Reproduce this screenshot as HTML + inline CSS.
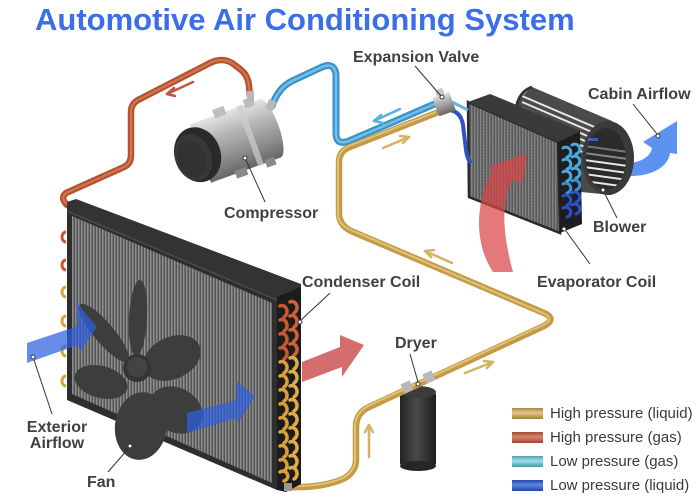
<!DOCTYPE html>
<html><head><meta charset="utf-8"><style>
html,body{margin:0;padding:0;background:#fff;}
svg{display:block;}
text{font-family:"Liberation Sans",Arial,sans-serif;}
.lbl{font-weight:bold;font-size:16px;fill:#404040;}
.leg{font-size:15px;fill:#3a3a3a;}
.ld{stroke:#333;stroke-width:1;fill:none;}
.dot{fill:#fff;stroke:#333;stroke-width:1;}
</style></head><body>
<svg width="700" height="500" viewBox="0 0 700 500" xmlns="http://www.w3.org/2000/svg">
<defs>
<pattern id="fins" width="3" height="10" patternUnits="userSpaceOnUse">
 <rect width="3" height="10" fill="#545454"/><rect width="1.5" height="10" fill="#8e8e8e"/>
</pattern>
<pattern id="grid" width="3" height="3" patternUnits="userSpaceOnUse">
 <rect width="3" height="3" fill="#555"/><rect width="1.4" height="3" fill="#8a8a8a"/><rect width="3" height="1" fill="#6a6a6a" opacity="0.7"/>
</pattern>
<linearGradient id="silver" x1="0" y1="0" x2="0" y2="1">
 <stop offset="0" stop-color="#e4e4e4"/><stop offset="0.35" stop-color="#b4b4b4"/><stop offset="0.7" stop-color="#8e8e8e"/><stop offset="1" stop-color="#666"/>
</linearGradient>
<linearGradient id="dry" x1="0" y1="0" x2="1" y2="0">
 <stop offset="0" stop-color="#222"/><stop offset="0.45" stop-color="#4a4a4a"/><stop offset="1" stop-color="#1e1e1e"/>
</linearGradient>
<linearGradient id="lg1" x1="0" y1="0" x2="0" y2="1"><stop offset="0" stop-color="#a88640"/><stop offset="0.45" stop-color="#e6c888"/><stop offset="1" stop-color="#a07c38"/></linearGradient>
<linearGradient id="lg2" x1="0" y1="0" x2="0" y2="1"><stop offset="0" stop-color="#9c4c34"/><stop offset="0.45" stop-color="#d8866a"/><stop offset="1" stop-color="#984a32"/></linearGradient>
<linearGradient id="lg3" x1="0" y1="0" x2="0" y2="1"><stop offset="0" stop-color="#4a9fb2"/><stop offset="0.45" stop-color="#9ee0ee"/><stop offset="1" stop-color="#4896a8"/></linearGradient>
<linearGradient id="lg4" x1="0" y1="0" x2="0" y2="1"><stop offset="0" stop-color="#2448a8"/><stop offset="0.45" stop-color="#5a86e0"/><stop offset="1" stop-color="#2246a4"/></linearGradient>
<clipPath id="drumclip"><polygon points="516,102 532,87 612,121 612,195 560,190 516,140"/></clipPath>
<clipPath id="innerclip"><ellipse cx="606" cy="159" rx="20" ry="31"/></clipPath>
</defs>

<text x="35" y="30" style="font-weight:bold;font-size:31px;fill:#3d6ee9;">Automotive Air Conditioning System</text>

<path d="M67,205 Q60,198 66,193 L124,167 Q131,164 131,155 L131,112 Q131,103 140,99 L210,63 Q222,57 232,63 L240,69 Q248,75 249,86 L250,96" fill="none" stroke="#b5532f" stroke-width="6.5" stroke-linecap="round" stroke-linejoin="round"/>
<path d="M67,204 Q60,198 66,193 L124,167 Q131,164 131,155 L131,112 Q131,103 140,99 L210,63 Q222,57 232,63 L240,69 Q248,75 249,86 L250,96" fill="none" stroke="#d98160" stroke-width="2" stroke-linecap="round" opacity="0.8"/>
<path d="M272,106 Q278,88 292,81 L322,67 Q334,62 336,74 L336,133 Q336,146 349,141 L437,103" fill="none" stroke="#3a93c8" stroke-width="7" stroke-linecap="round" stroke-linejoin="round"/>
<path d="M272,106 Q278,88 292,81 L322,67 Q334,62 336,74 L336,133 Q336,146 349,141 L437,103" fill="none" stroke="#80c6ec" stroke-width="2.5" stroke-linecap="round" opacity="0.85"/>

<g stroke-width="2.5" fill="none" stroke-linecap="round">
 <path d="M193,82 L167,94" stroke="#c0573a"/><path d="M167,94 L174,88 M167,94 L175,96" stroke="#c0573a"/>
 <path d="M400,109 L374,121" stroke="#52b5e0"/><path d="M374,121 L381,115 M374,121 L383,123" stroke="#52b5e0"/>
 <path d="M383,148 L409,137" stroke="#d6b264"/><path d="M409,137 L400,136 M409,137 L403,143" stroke="#d6b264"/>
 <path d="M452,263 L425,251" stroke="#d6b264"/><path d="M425,251 L431,257 M425,251 L434,250" stroke="#d6b264"/>
 <path d="M465,373 L493,362" stroke="#d6b264"/><path d="M493,362 L484,361 M493,362 L487,368" stroke="#d6b264"/>
 <path d="M369,457 L369,425" stroke="#d6b264"/><path d="M369,425 L365,432 M369,425 L373,432" stroke="#d6b264"/>
</g>

<g transform="translate(238,140) rotate(-20)">
 <ellipse cx="34" cy="0" rx="9" ry="31" fill="url(#silver)"/>
 <rect x="-40" y="-31" width="74" height="62" fill="url(#silver)"/>
 <rect x="10" y="-32" width="6" height="64" fill="#cfcfcf" opacity="0.7"/>
 <rect x="-14" y="-37" width="12" height="9" fill="#bdbdbd"/>
 <rect x="18" y="-36" width="10" height="9" fill="#bdbdbd"/>
 <rect x="-14" y="28" width="12" height="8" fill="#8a8a8a"/>
 <rect x="18" y="28" width="10" height="8" fill="#8a8a8a"/>
 <ellipse cx="-43" cy="0" rx="23" ry="28" fill="#2a2a2a"/>
 <ellipse cx="-48" cy="1" rx="18" ry="24" fill="#383838"/>
 <ellipse cx="-50" cy="2" rx="14" ry="19" fill="#323232"/>
</g>
<rect x="247" y="91" width="7" height="11" fill="#b8b8b8"/>
<rect x="267" y="100" width="8" height="10" fill="#b8b8b8" transform="rotate(25 271 105)"/>

<polygon points="516,102 532,87 612,121 612,195 560,190 516,140" fill="#4a4a4a"/>
<g clip-path="url(#drumclip)" stroke="#e6e6e6" stroke-width="2">
 <line x1="522" y1="96" x2="606" y2="132"/><line x1="522" y1="102" x2="606" y2="138"/>
 <line x1="522" y1="108" x2="606" y2="144"/><line x1="522" y1="114" x2="606" y2="150"/>
 <line x1="522" y1="120" x2="606" y2="156"/><line x1="522" y1="126" x2="606" y2="162"/>
</g>
<path d="M532,87 Q518,92 516,110" fill="none" stroke="#333" stroke-width="3"/>
<path d="M626,164 C640,162 650,158 652,148 L643,142 L677,121 L677,154 L670,153 C668,168 650,177 626,176 Z" fill="#5e92f1"/>
<ellipse cx="608" cy="158" rx="26" ry="37" fill="#3a3a3a"/>
<ellipse cx="606" cy="159" rx="20" ry="31" fill="#2b2b2b"/>
<g clip-path="url(#innerclip)" stroke="#e8e8e8" stroke-width="2">
 <line x1="584" y1="160" x2="628" y2="166"/><line x1="584" y1="167" x2="628" y2="173"/>
 <line x1="584" y1="174" x2="628" y2="180"/><line x1="584" y1="181" x2="628" y2="187"/>
 <line x1="584" y1="153" x2="628" y2="159" stroke="#888"/><line x1="584" y1="146" x2="628" y2="152" stroke="#777"/>
</g>
<rect x="588" y="138" width="10" height="3" fill="#3d6ee0" opacity="0.8"/>

<polygon points="468,102 558,142 560,233 469,197" fill="url(#grid)" stroke="#2a2a2a" stroke-width="2.5"/>
<polygon points="468,102 490,94 580,131 558,142" fill="#3a3a3a"/>
<polygon points="558,142 580,131 582,224 560,233" fill="#1e1e1e"/>
<g fill="none" stroke-width="3" stroke-linecap="round">
 <path d="M563,148 a5,5 0 1,1 4,9" stroke="#4aa8dc"/><path d="M572,145 a5,5 0 1,1 4,9" stroke="#4aa8dc"/>
 <path d="M563,160 a5,5 0 1,1 4,9" stroke="#4aa8dc"/><path d="M572,157 a5,5 0 1,1 4,9" stroke="#4aa8dc"/>
 <path d="M563,172 a5,5 0 1,1 4,9" stroke="#4aa8dc"/><path d="M572,169 a5,5 0 1,1 4,9" stroke="#4aa8dc"/>
 <path d="M563,184 a5,5 0 1,1 4,9" stroke="#3f8fd4"/><path d="M572,181 a5,5 0 1,1 4,9" stroke="#3f8fd4"/>
 <path d="M563,196 a5,5 0 1,1 4,9" stroke="#2a50cc"/><path d="M572,193 a5,5 0 1,1 4,9" stroke="#2a50cc"/>
 <path d="M563,208 a5,5 0 1,1 4,9" stroke="#2a50cc"/><path d="M572,205 a5,5 0 1,1 4,9" stroke="#2a50cc"/>
</g>

<path d="M452,102 L468,110" stroke="#63b3e0" stroke-width="3" fill="none"/>
<path d="M450,110 Q461,112 463,125 L466,150 Q467,158 470,162" stroke="#2f52c0" stroke-width="4" fill="none" stroke-linecap="round"/>

<rect x="400" y="392" width="36" height="74" rx="3" fill="url(#dry)"/>
<ellipse cx="418" cy="466" rx="18" ry="5" fill="#262626"/>
<ellipse cx="418" cy="392" rx="18" ry="6" fill="#3c3c3c"/>

<path d="M290,487 Q322,488 343,479 Q356,472 356,460 L356,427 Q356,413 369,407 L544,326 Q557,319 544,313 L351,231 Q339,225 339,213 L339,162 Q339,151 350,147 L436,113" fill="none" stroke="#c39a48" stroke-width="6.5" stroke-linecap="round" stroke-linejoin="round"/>
<path d="M290,486 Q322,487 343,478 Q355,471 355,460 L355,427 Q355,413 368,406 L543,325 Q556,319 543,313 L351,230 Q338,225 338,213 L338,162 Q338,151 349,146 L436,112" fill="none" stroke="#e8c880" stroke-width="2" opacity="0.85"/>
<rect x="402" y="382" width="10" height="10" fill="#b8b8b8" transform="rotate(-24 407 387)"/>
<rect x="424" y="372" width="10" height="10" fill="#b8b8b8" transform="rotate(-24 429 377)"/>

<g transform="rotate(-20 444 104)">
 <rect x="435" y="94" width="18" height="20" rx="2" fill="url(#silver)"/>
 <rect x="440" y="88" width="8" height="7" rx="2" fill="#c8c8c8"/>
</g>

<polygon points="67,208 277,297 277,490 67,400" fill="#2e2e2e"/>
<polygon points="72,216 272,303 272,483 72,394" fill="url(#fins)"/>
<polygon points="67,202 76,199 301,284 301,290 277,300 67,212" fill="#333"/>
<line x1="67" y1="211" x2="277" y2="300" stroke="#4a4a4a" stroke-width="1.5"/>
<polygon points="277,297 301,287 301,484 286,492 277,490" fill="#1c1c1c"/>
<g fill="none" stroke-width="3">
 <path d="M66,232 a4,5 0 0,0 0,10" stroke="#c8582e"/>
 <path d="M66,260 a4,5 0 0,0 0,10" stroke="#c8582e"/>
 <path d="M66,287 a4,5 0 0,0 0,10" stroke="#d9a43a"/>
 <path d="M66,316 a4,5 0 0,0 0,10" stroke="#d9a43a"/>
 <path d="M66,346 a4,5 0 0,0 0,10" stroke="#d9a43a"/>
 <path d="M66,376 a4,5 0 0,0 0,10" stroke="#d9a43a"/>
</g>
<g fill="none" stroke-width="3.5" stroke-linecap="round">
 <path d="M280,306 a5,6 0 1,1 4,11" stroke="#c8582e"/><path d="M290,302 a5,6 0 1,1 4,11" stroke="#d06236"/>
 <path d="M280,320 a5,6 0 1,1 4,11" stroke="#c8582e"/><path d="M290,316 a5,6 0 1,1 4,11" stroke="#d06236"/>
 <path d="M280,334 a5,6 0 1,1 4,11" stroke="#c8582e"/><path d="M290,330 a5,6 0 1,1 4,11" stroke="#d06236"/>
 <path d="M280,348 a5,6 0 1,1 4,11" stroke="#c8582e"/><path d="M290,344 a5,6 0 1,1 4,11" stroke="#d06236"/>
 <path d="M280,362 a5,6 0 1,1 4,11" stroke="#d9a03a"/><path d="M290,358 a5,6 0 1,1 4,11" stroke="#e0ad48"/>
 <path d="M280,376 a5,6 0 1,1 4,11" stroke="#d9a03a"/><path d="M290,372 a5,6 0 1,1 4,11" stroke="#e0ad48"/>
 <path d="M280,390 a5,6 0 1,1 4,11" stroke="#d9a03a"/><path d="M290,386 a5,6 0 1,1 4,11" stroke="#e0ad48"/>
 <path d="M280,404 a5,6 0 1,1 4,11" stroke="#d9a03a"/><path d="M290,400 a5,6 0 1,1 4,11" stroke="#e0ad48"/>
 <path d="M280,418 a5,6 0 1,1 4,11" stroke="#d9a03a"/><path d="M290,414 a5,6 0 1,1 4,11" stroke="#e0ad48"/>
 <path d="M280,432 a5,6 0 1,1 4,11" stroke="#d9a03a"/><path d="M290,428 a5,6 0 1,1 4,11" stroke="#e0ad48"/>
 <path d="M280,446 a5,6 0 1,1 4,11" stroke="#d9a03a"/><path d="M290,442 a5,6 0 1,1 4,11" stroke="#e0ad48"/>
 <path d="M280,460 a5,6 0 1,1 4,11" stroke="#d9a03a"/><path d="M290,456 a5,6 0 1,1 4,11" stroke="#e0ad48"/>
 <path d="M280,472 a5,5 0 1,1 4,9" stroke="#d9a03a"/><path d="M290,468 a5,6 0 1,1 4,11" stroke="#e0ad48"/>
</g>
<rect x="284" y="483" width="8" height="8" fill="#999"/>

<g fill="#3d3d3d">
 <ellipse cx="138" cy="318" rx="9" ry="38" transform="rotate(3 138 318)"/>
 <ellipse cx="104" cy="333" rx="10" ry="37" transform="rotate(-40 104 333)"/>
 <ellipse cx="172" cy="358" rx="30" ry="21" transform="rotate(-25 172 358)"/>
 <ellipse cx="101" cy="382" rx="27" ry="16" transform="rotate(15 101 382)"/>
 <ellipse cx="176" cy="410" rx="28" ry="22" transform="rotate(30 176 410)"/>
 <ellipse cx="141" cy="426" rx="26" ry="34" transform="rotate(8 141 426)"/>
 <circle cx="137" cy="368" r="14" fill="#353535"/>
 <circle cx="137" cy="367" r="10" fill="#444"/>
</g>

<polygon points="27,343 78,326 76,302 97,327 80,352 78,345 27,363" fill="#2f5fe0" opacity="0.72"/>
<polygon points="187,413 237,400 236,381 255,396 238,423 237,418 187,433" fill="#2f5fe0" opacity="0.72"/>
<polygon points="302,362 340,347 340,335 364,345 342,377 342,367 302,382" fill="#c84444" opacity="0.78"/>
<path d="M493,272 C475,245 474,205 492,172 L488,167 L527,153 L523,183 L513,180 C503,195 500,225 513,272 Z" fill="#d9454a" opacity="0.72"/>

<line class="ld" x1="246" y1="160" x2="265" y2="202"/><circle class="dot" cx="245" cy="158" r="2"/>
<line class="ld" x1="415" y1="66" x2="441" y2="96"/><circle class="dot" cx="442" cy="97" r="2"/>
<line class="ld" x1="633" y1="104" x2="657" y2="134"/><circle class="dot" cx="658" cy="136" r="2"/>
<line class="ld" x1="604" y1="192" x2="617" y2="218"/><circle class="dot" cx="603" cy="190" r="2"/>
<line class="ld" x1="566" y1="231" x2="590" y2="264"/><circle class="dot" cx="564" cy="229" r="2"/>
<line class="ld" x1="330" y1="293" x2="301" y2="320"/><circle class="dot" cx="300" cy="322" r="2"/>
<line class="ld" x1="410" y1="354" x2="418" y2="382"/><circle class="dot" cx="418" cy="384" r="2"/>
<line class="ld" x1="34" y1="360" x2="52" y2="414"/><circle class="dot" cx="33" cy="357" r="2"/>
<line class="ld" x1="128" y1="449" x2="108" y2="472"/><circle class="dot" cx="130" cy="446" r="2"/>

<text class="lbl" x="224" y="218">Compressor</text>
<text class="lbl" x="353" y="62">Expansion Valve</text>
<text class="lbl" x="588" y="99">Cabin Airflow</text>
<text class="lbl" x="593" y="232">Blower</text>
<text class="lbl" x="537" y="287">Evaporator Coil</text>
<text class="lbl" x="302" y="287">Condenser Coil</text>
<text class="lbl" x="395" y="348">Dryer</text>
<text class="lbl" x="57" y="432" text-anchor="middle">Exterior</text>
<text class="lbl" x="57" y="448" text-anchor="middle">Airflow</text>
<text class="lbl" x="87" y="487">Fan</text>

<rect x="512" y="408" width="31" height="11" fill="url(#lg1)"/>
<rect x="512" y="432" width="31" height="11" fill="url(#lg2)"/>
<rect x="512" y="456" width="31" height="11" fill="url(#lg3)"/>
<rect x="512" y="480" width="31" height="11" fill="url(#lg4)"/>
<text class="leg" x="550" y="418">High pressure (liquid)</text>
<text class="leg" x="550" y="442">High pressure (gas)</text>
<text class="leg" x="550" y="466">Low pressure (gas)</text>
<text class="leg" x="550" y="490">Low pressure (liquid)</text>
</svg>
</body></html>
